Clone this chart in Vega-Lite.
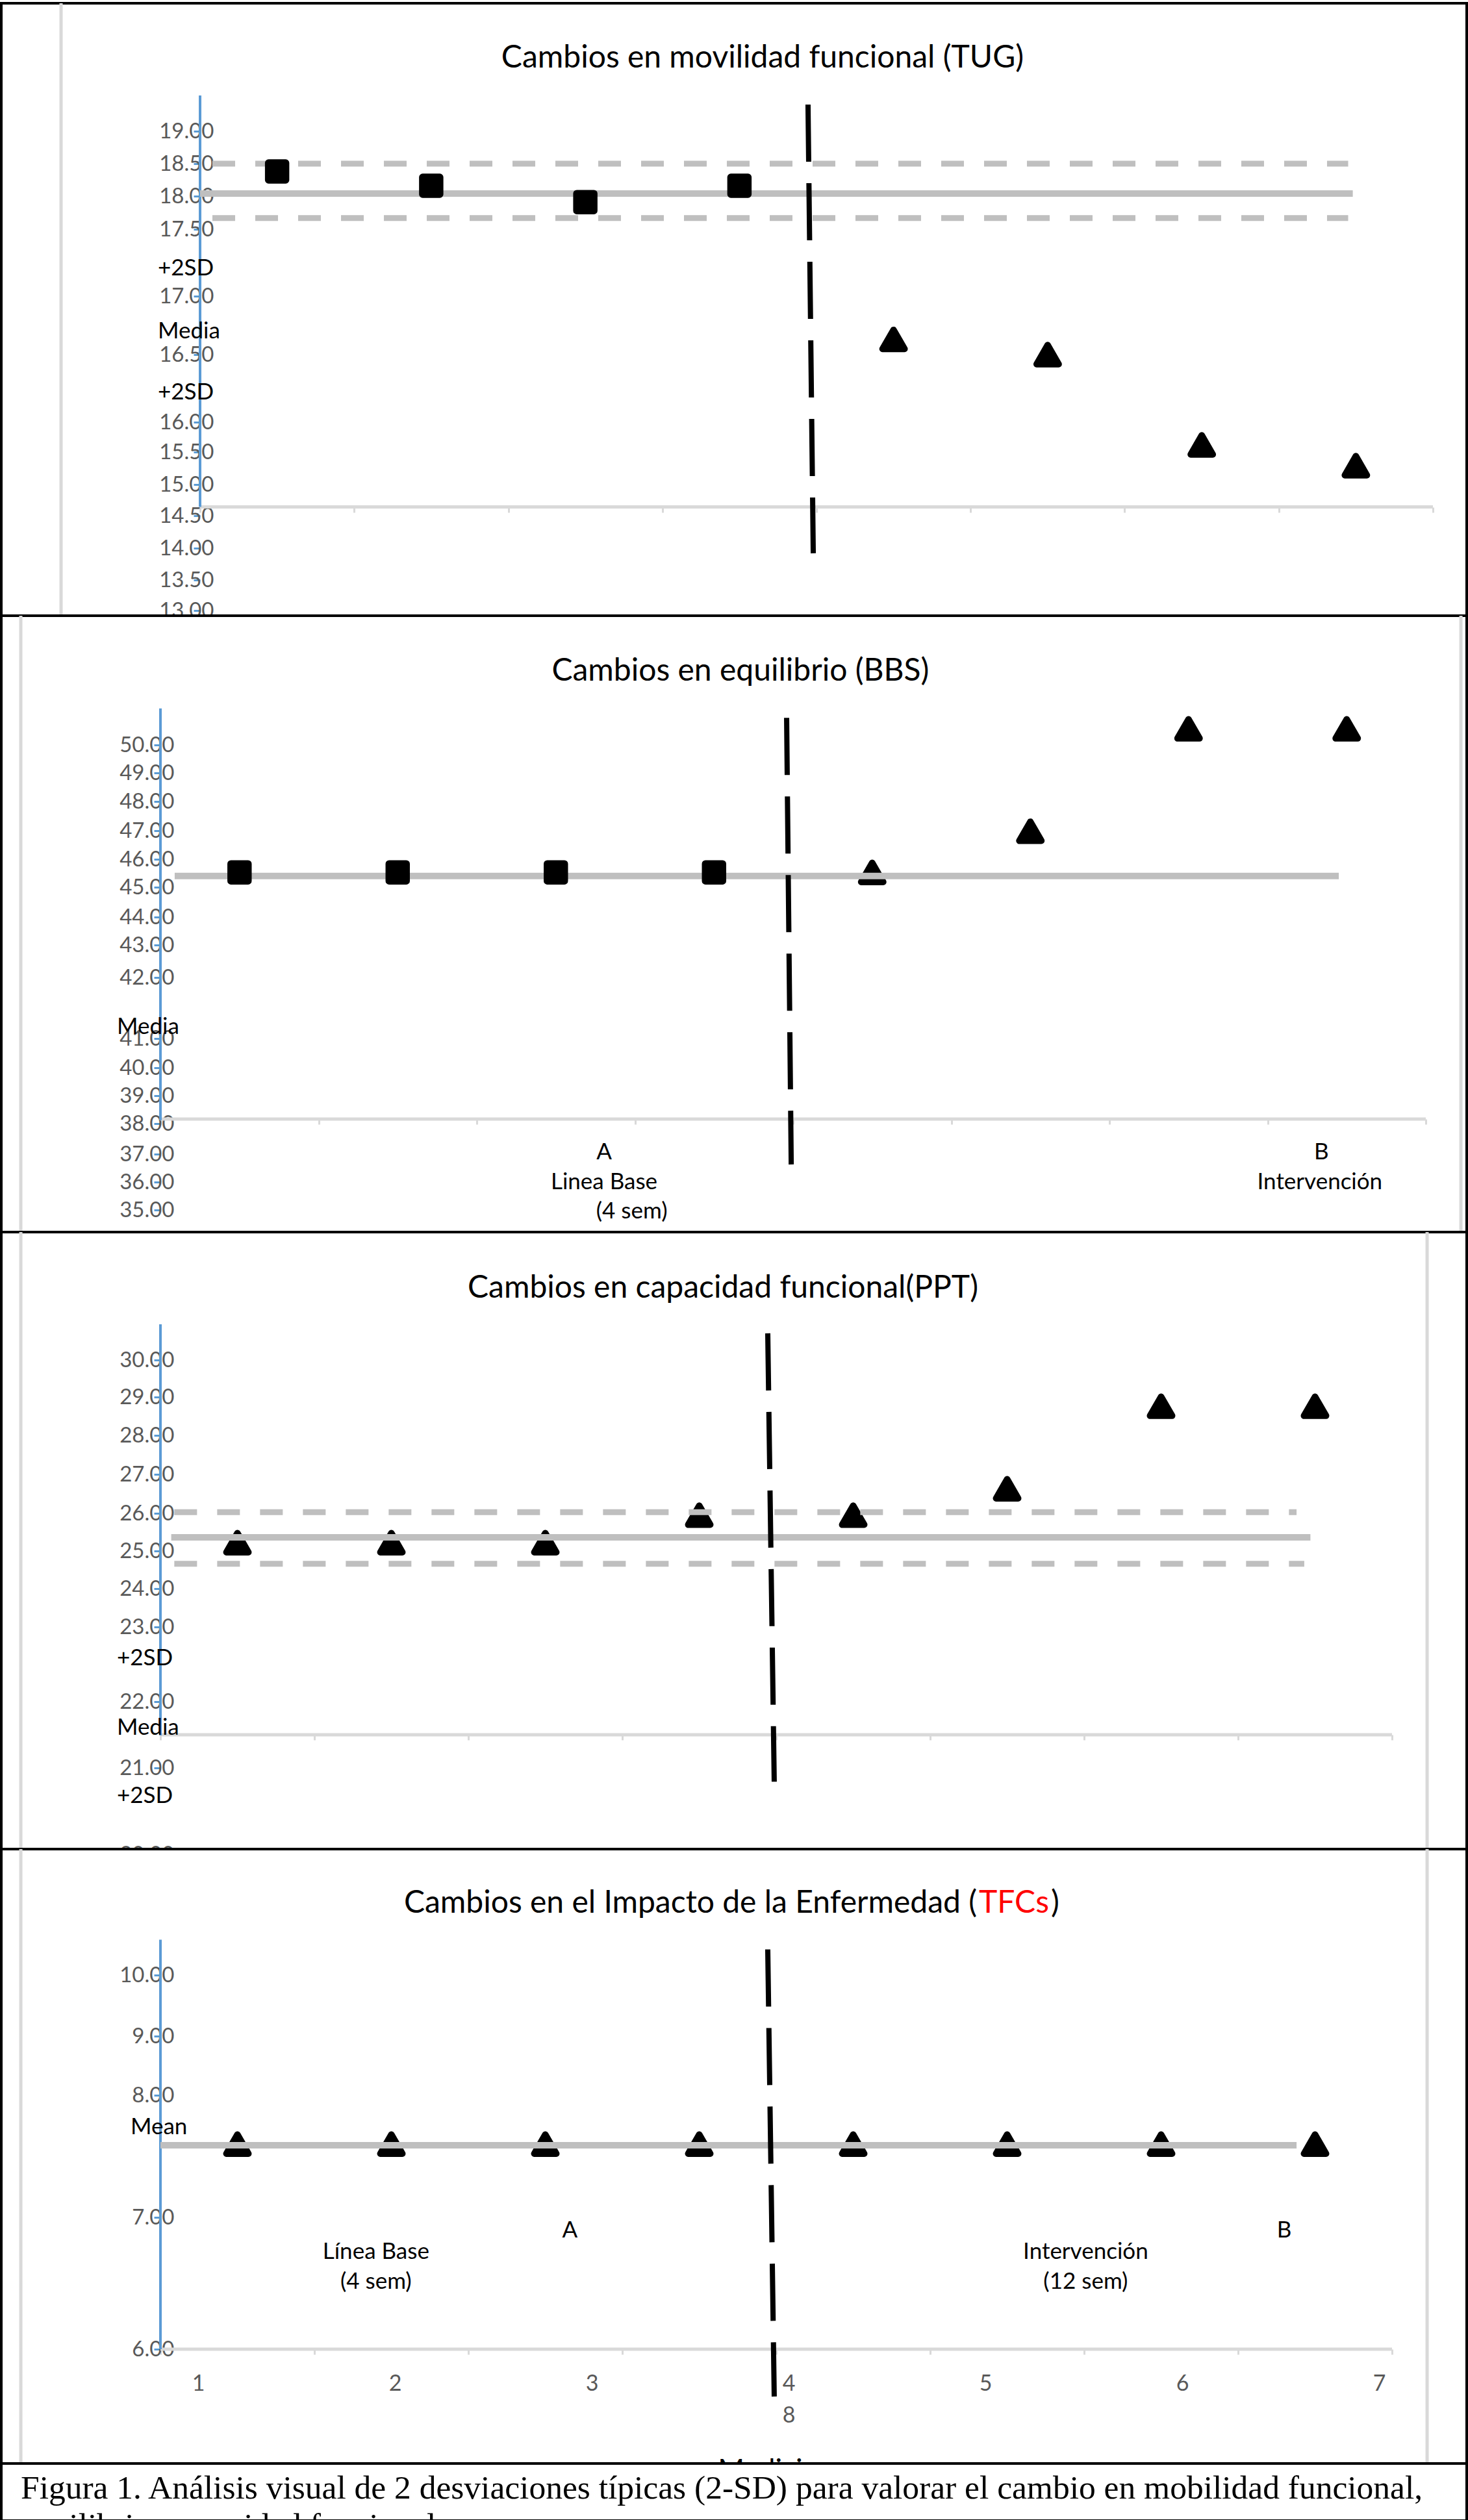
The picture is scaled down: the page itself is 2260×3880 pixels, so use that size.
{
  "$schema": "https://vega.github.io/schema/vega-lite/v6.json",
  "padding": 0,
  "spacing": 0,
  "bounds": "flush",
  "background": "white",
  "config": {"font": "Lato", "view": {"stroke": null}},
  "vconcat": [
    {
      "width": 2256, "height": 943,
      "view": {"stroke": "black", "strokeWidth": 4, "fill": "white"},
      "data": {"values": [{}]},
      "layer": [
        {"mark": {"type": "rule", "color": "#d9d9d9", "strokeWidth": 5}, "encoding": {"x": {"datum": -0.402}}},
        {"mark": {"type": "rule", "color": "#d9d9d9", "strokeWidth": 5}, "encoding": {"x": {"datum": 0.5}, "x2": {"datum": 8.5}, "y": {"datum": 14.64}}},
        {"mark": {"type": "rule", "color": "#5b9bd5", "strokeWidth": 4}, "encoding": {"x": {"datum": 0.5}, "y": {"datum": 14.64}, "y2": {"datum": 19.55}}},
        {"mark": {"type": "rule", "color": "#bfbfbf", "strokeWidth": 10}, "encoding": {"x": {"datum": 0.5}, "x2": {"datum": 7.98}, "y": {"datum": 18.04}}},
        {"mark": {"type": "rule", "color": "#bfbfbf", "strokeWidth": 9, "strokeDash": [35, 31]}, "encoding": {"x": {"datum": 0.58}, "x2": {"datum": 7.95}, "y": {"datum": 18.5}}},
        {"mark": {"type": "rule", "color": "#bfbfbf", "strokeWidth": 9, "strokeDash": [35, 31]}, "encoding": {"x": {"datum": 0.58}, "x2": {"datum": 7.95}, "y": {"datum": 17.67}}},
        {
          "data": {"values": [
            {"medicion": 1, "valor": 18.38, "fase": "A"},
            {"medicion": 2, "valor": 18.16, "fase": "A"},
            {"medicion": 3, "valor": 17.91, "fase": "A"},
            {"medicion": 4, "valor": 18.16, "fase": "A"}
          ]},
          "mark": {"type": "point", "filled": true, "opacity": 1, "shape": "square", "size": 700, "stroke": "black", "strokeWidth": 11, "strokeJoin": "round", "color": "black"},
          "encoding": {
            "x": {"field": "medicion", "type": "quantitative", "scale": {"domain": [-0.7898, 8.7192], "nice": false, "zero": false},
                  "axis": {"values": [0.5, 1.5, 2.5, 3.5, 4.5, 5.5, 6.5, 7.5, 8.5], "labels": false, "domain": false, "grid": false, "tickColor": "#d9d9d9", "tickSize": 8, "tickWidth": 3, "offset": -167, "title": null}},
            "y": {"field": "valor", "type": "quantitative",
                  "scale": {"domain": [12.92, 13, 13.5, 14, 14.5, 15, 15.5, 16, 16.5, 17, 17.5, 18, 18.5, 19, 20.97], "range": [943, 935, 888, 839, 789, 741, 691, 645, 541, 451, 348, 297, 247, 197, 0], "nice": false, "zero": false},
                  "axis": {"values": [13, 13.5, 14, 14.5, 15, 15.5, 16, 16.5, 17, 17.5, 18, 18.5, 19], "format": ".2f", "offset": -306, "domain": false, "grid": false, "tickColor": "#5b9bd5", "tickSize": 10, "tickWidth": 3, "labelPadding": -31, "labelFont": "Lato", "labelFontSize": 33, "labelColor": "#595959", "labelOverlap": false, "labelBound": false, "title": null}}
          }
        },
        {
          "data": {"values": [
            {"medicion": 5, "valor": 16.63, "fase": "B"},
            {"medicion": 6, "valor": 16.5, "fase": "B"},
            {"medicion": 7, "valor": 15.62, "fase": "B"},
            {"medicion": 8, "valor": 15.29, "fase": "B"}
          ]},
          "mark": {"type": "point", "filled": true, "opacity": 1, "shape": "triangle-up", "size": 1150, "stroke": "black", "strokeWidth": 10, "strokeJoin": "round", "color": "black"},
          "encoding": {"x": {"field": "medicion", "type": "quantitative"}, "y": {"field": "valor", "type": "quantitative"}}
        },
        {"mark": {"type": "rule", "color": "black", "strokeWidth": 8, "strokeDash": [88, 33]}, "encoding": {"x": {"datum": 4.445}, "x2": {"datum": 4.479}, "y": {"datum": 19.41}, "y2": {"datum": 13.92}}},
        {"mark": {"type": "text", "fontSize": 48, "align": "center", "baseline": "middle", "color": "black"}, "encoding": {"x": {"datum": 4.15}, "y": {"datum": 20.12}, "text": {"value": "Cambios en movilidad funcional (TUG)"}}},
        {"mark": {"type": "text", "fontSize": 35, "align": "left", "baseline": "middle", "color": "black"}, "encoding": {"x": {"datum": 0.226}, "y": {"datum": 17.21}, "text": {"value": "+2SD"}}},
        {"mark": {"type": "text", "fontSize": 35, "align": "left", "baseline": "middle", "color": "black"}, "encoding": {"x": {"datum": 0.226}, "y": {"datum": 16.7}, "text": {"value": "Media"}}},
        {"mark": {"type": "text", "fontSize": 35, "align": "left", "baseline": "middle", "color": "black"}, "encoding": {"x": {"datum": 0.226}, "y": {"datum": 16.22}, "text": {"value": "+2SD"}}}
      ]
    },
    {
      "width": 2256, "height": 949,
      "view": {"stroke": "black", "strokeWidth": 4, "fill": "white"},
      "data": {"values": [{}]},
      "layer": [
        {"mark": {"type": "rule", "color": "#d9d9d9", "strokeWidth": 5}, "encoding": {"x": {"datum": -0.383}}},
        {"mark": {"type": "rule", "color": "#d9d9d9", "strokeWidth": 5}, "encoding": {"x": {"datum": 8.722}}},
        {"mark": {"type": "rule", "color": "#d9d9d9", "strokeWidth": 5}, "encoding": {"x": {"datum": 0.5}, "x2": {"datum": 8.5}, "y": {"datum": 38.16}}},
        {"mark": {"type": "rule", "color": "#5b9bd5", "strokeWidth": 4}, "encoding": {"x": {"datum": 0.5}, "y": {"datum": 38.12}, "y2": {"datum": 51.29}}},
        {
          "data": {"values": [
            {"medicion": 5, "valor": 45.53, "fase": "B"},
            {"medicion": 6, "valor": 46.98, "fase": "B"},
            {"medicion": 7, "valor": 50.57, "fase": "B"},
            {"medicion": 8, "valor": 50.57, "fase": "B"}
          ]},
          "mark": {"type": "point", "filled": true, "opacity": 1, "shape": "triangle-up", "size": 1150, "stroke": "black", "strokeWidth": 10, "strokeJoin": "round", "color": "black"},
          "encoding": {"x": {"field": "medicion", "type": "quantitative"}, "y": {"field": "valor", "type": "quantitative"}}
        },
        {"mark": {"type": "rule", "color": "#bfbfbf", "strokeWidth": 10}, "encoding": {"x": {"datum": 0.59}, "x2": {"datum": 7.95}, "y": {"datum": 45.4}}},
        {
          "data": {"values": [
            {"medicion": 1, "valor": 45.53, "fase": "A"},
            {"medicion": 2, "valor": 45.53, "fase": "A"},
            {"medicion": 3, "valor": 45.53, "fase": "A"},
            {"medicion": 4, "valor": 45.53, "fase": "A"}
          ]},
          "mark": {"type": "point", "filled": true, "opacity": 1, "shape": "square", "size": 700, "stroke": "black", "strokeWidth": 11, "strokeJoin": "round", "color": "black"},
          "encoding": {
            "x": {"field": "medicion", "type": "quantitative", "scale": {"domain": [-0.5062, 8.7587], "nice": false, "zero": false},
                  "axis": {"values": [0.5, 1.5, 2.5, 3.5, 4.5, 5.5, 6.5, 7.5, 8.5], "labels": false, "domain": false, "grid": false, "tickColor": "#d9d9d9", "tickSize": 8, "tickWidth": 3, "offset": -174, "title": null}},
            "y": {"field": "valor", "type": "quantitative",
                  "scale": {"domain": [34.21, 35, 36, 37, 38, 39, 40, 41, 42, 43, 44, 45, 46, 47, 48, 49, 50, 54.57], "range": [949, 915, 872, 829, 782, 739, 696, 651, 557, 507, 464, 418, 375, 331, 286, 242, 199, 0], "nice": false, "zero": false},
                  "axis": {"values": [35, 36, 37, 38, 39, 40, 41, 42, 43, 44, 45, 46, 47, 48, 49, 50], "format": ".2f", "offset": -245, "domain": false, "grid": false, "tickColor": "#5b9bd5", "tickSize": 10, "tickWidth": 3, "labelPadding": -31, "labelFont": "Lato", "labelFontSize": 33, "labelColor": "#595959", "labelOverlap": false, "labelBound": false, "title": null}}
          }
        },
        {"mark": {"type": "rule", "color": "black", "strokeWidth": 8, "strokeDash": [88, 33]}, "encoding": {"x": {"datum": 4.459}, "x2": {"datum": 4.488}, "y": {"datum": 50.96}, "y2": {"datum": 36.63}}},
        {"mark": {"type": "text", "fontSize": 48, "align": "center", "baseline": "middle", "color": "black"}, "encoding": {"x": {"datum": 4.167}, "y": {"datum": 52.6}, "text": {"value": "Cambios en equilibrio (BBS)"}}},
        {"mark": {"type": "text", "fontSize": 35, "align": "left", "baseline": "middle", "color": "black"}, "encoding": {"x": {"datum": 0.225}, "y": {"datum": 41.19}, "text": {"value": "Media"}}},
        {"mark": {"type": "text", "fontSize": 35, "align": "center", "baseline": "middle", "color": "black"}, "encoding": {"x": {"datum": 3.305}, "y": {"datum": 37.06}, "text": {"value": "A"}}},
        {"mark": {"type": "text", "fontSize": 35, "align": "center", "baseline": "middle", "color": "black"}, "encoding": {"x": {"datum": 3.305}, "y": {"datum": 36.0}, "text": {"value": "Linea Base"}}},
        {"mark": {"type": "text", "fontSize": 35, "align": "center", "baseline": "middle", "color": "black"}, "encoding": {"x": {"datum": 3.48}, "y": {"datum": 34.95}, "text": {"value": "(4 sem)"}}},
        {"mark": {"type": "text", "fontSize": 35, "align": "center", "baseline": "middle", "color": "black"}, "encoding": {"x": {"datum": 7.84}, "y": {"datum": 37.06}, "text": {"value": "B"}}},
        {"mark": {"type": "text", "fontSize": 35, "align": "center", "baseline": "middle", "color": "black"}, "encoding": {"x": {"datum": 7.83}, "y": {"datum": 36.0}, "text": {"value": "Intervención"}}}
      ]
    },
    {
      "width": 2256, "height": 950,
      "view": {"stroke": "black", "strokeWidth": 4, "fill": "white"},
      "data": {"values": [{}]},
      "layer": [
        {"mark": {"type": "rule", "color": "#d9d9d9", "strokeWidth": 5}, "encoding": {"x": {"datum": -0.407}}},
        {"mark": {"type": "rule", "color": "#d9d9d9", "strokeWidth": 5}, "encoding": {"x": {"datum": 8.728}}},
        {"mark": {"type": "rule", "color": "#d9d9d9", "strokeWidth": 5}, "encoding": {"x": {"datum": 0.5}, "x2": {"datum": 8.5}, "y": {"datum": 21.5}}},
        {"mark": {"type": "rule", "color": "#5b9bd5", "strokeWidth": 4}, "encoding": {"x": {"datum": 0.5}, "y": {"datum": 21.49}, "y2": {"datum": 30.95}}},
        {
          "data": {"values": [
            {"medicion": 1, "valor": 25.22, "fase": "A"},
            {"medicion": 2, "valor": 25.22, "fase": "A"},
            {"medicion": 3, "valor": 25.22, "fase": "A"},
            {"medicion": 4, "valor": 25.95, "fase": "A"},
            {"medicion": 5, "valor": 25.95, "fase": "B"},
            {"medicion": 6, "valor": 26.63, "fase": "B"},
            {"medicion": 7, "valor": 28.76, "fase": "B"},
            {"medicion": 8, "valor": 28.76, "fase": "B"}
          ]},
          "mark": {"type": "point", "filled": true, "opacity": 1, "shape": "triangle-up", "size": 1150, "stroke": "black", "strokeWidth": 10, "strokeJoin": "round", "color": "black"},
          "encoding": {
            "x": {"field": "medicion", "type": "quantitative", "scale": {"domain": [-0.5338, 8.9852], "nice": false, "zero": false},
                  "axis": {"values": [0.5, 1.5, 2.5, 3.5, 4.5, 5.5, 6.5, 7.5, 8.5], "labels": false, "domain": false, "grid": false, "tickColor": "#d9d9d9", "tickSize": 8, "tickWidth": 3, "offset": -176, "title": null}},
            "y": {"field": "valor", "type": "quantitative",
                  "scale": {"domain": [20, 21, 22, 23, 24, 25, 26, 27, 28, 29, 30, 33.4], "range": [958, 825, 723, 608, 549, 491, 433, 373, 313, 254, 197, 0], "nice": false, "zero": false},
                  "axis": {"values": [20, 21, 22, 23, 24, 25, 26, 27, 28, 29, 30], "format": ".2f", "offset": -245, "domain": false, "grid": false, "tickColor": "#5b9bd5", "tickSize": 10, "tickWidth": 3, "labelPadding": -31, "labelFont": "Lato", "labelFontSize": 33, "labelColor": "#595959", "labelOverlap": false, "labelBound": false, "title": null}}
          }
        },
        {"mark": {"type": "rule", "color": "#bfbfbf", "strokeWidth": 10}, "encoding": {"x": {"datum": 0.57}, "x2": {"datum": 7.97}, "y": {"datum": 25.36}}},
        {"mark": {"type": "rule", "color": "#bfbfbf", "strokeWidth": 9, "strokeDash": [35, 31]}, "encoding": {"x": {"datum": 0.59}, "x2": {"datum": 7.88}, "y": {"datum": 26.03}}},
        {"mark": {"type": "rule", "color": "#bfbfbf", "strokeWidth": 9, "strokeDash": [35, 31]}, "encoding": {"x": {"datum": 0.59}, "x2": {"datum": 7.93}, "y": {"datum": 24.66}}},
        {"mark": {"type": "rule", "color": "black", "strokeWidth": 8, "strokeDash": [88, 33]}, "encoding": {"x": {"datum": 4.445}, "x2": {"datum": 4.487}, "y": {"datum": 30.71}, "y2": {"datum": 20.84}}},
        {"mark": {"type": "text", "fontSize": 48, "align": "center", "baseline": "middle", "color": "black"}, "encoding": {"x": {"datum": 4.154}, "y": {"datum": 31.9}, "text": {"value": "Cambios en capacidad funcional(PPT)"}}},
        {"mark": {"type": "text", "fontSize": 35, "align": "left", "baseline": "middle", "color": "black"}, "encoding": {"x": {"datum": 0.217}, "y": {"datum": 22.58}, "text": {"value": "+2SD"}}},
        {"mark": {"type": "text", "fontSize": 35, "align": "left", "baseline": "middle", "color": "black"}, "encoding": {"x": {"datum": 0.217}, "y": {"datum": 21.61}, "text": {"value": "Media"}}},
        {"mark": {"type": "text", "fontSize": 35, "align": "left", "baseline": "middle", "color": "black"}, "encoding": {"x": {"datum": 0.217}, "y": {"datum": 20.68}, "text": {"value": "+2SD"}}}
      ]
    },
    {
      "width": 2256, "height": 946,
      "view": {"stroke": "black", "strokeWidth": 4, "fill": "white"},
      "data": {"values": [{}]},
      "resolve": {"scale": {"x": "independent"}, "axis": {"x": "independent"}},
      "layer": [
        {
          "layer": [
            {"mark": {"type": "rule", "color": "#d9d9d9", "strokeWidth": 5}, "encoding": {"x": {"datum": -0.407}}},
            {"mark": {"type": "rule", "color": "#d9d9d9", "strokeWidth": 5}, "encoding": {"x": {"datum": 8.728}}},
            {"mark": {"type": "rule", "color": "#d9d9d9", "strokeWidth": 5}, "encoding": {"x": {"datum": 0.5}, "x2": {"datum": 8.5}, "y": {"datum": 6.0}}},
            {"mark": {"type": "rule", "color": "#5b9bd5", "strokeWidth": 4}, "encoding": {"x": {"datum": 0.5}, "y": {"datum": 6.0}, "y2": {"datum": 10.58}}},
            {
              "data": {"values": [
                {"medicion": 1, "valor": 7.6, "fase": "A"},
                {"medicion": 2, "valor": 7.6, "fase": "A"},
                {"medicion": 3, "valor": 7.6, "fase": "A"},
                {"medicion": 4, "valor": 7.6, "fase": "A"},
                {"medicion": 5, "valor": 7.6, "fase": "B"},
                {"medicion": 6, "valor": 7.6, "fase": "B"},
                {"medicion": 7, "valor": 7.6, "fase": "B"},
                {"medicion": 8, "valor": 7.6, "fase": "B"}
              ]},
              "mark": {"type": "point", "filled": true, "opacity": 1, "shape": "triangle-up", "size": 1150, "stroke": "black", "strokeWidth": 10, "strokeJoin": "round", "color": "black"},
              "encoding": {
                "x": {"field": "medicion", "type": "quantitative", "scale": {"domain": [-0.5338, 8.9852], "nice": false, "zero": false},
                      "axis": {"values": [0.5, 1.5, 2.5, 3.5, 4.5, 5.5, 6.5, 7.5, 8.5], "labels": false, "domain": false, "grid": false, "tickColor": "#d9d9d9", "tickSize": 8, "tickWidth": 3, "offset": -176, "title": null}},
                "y": {"field": "valor", "type": "quantitative",
                      "scale": {"domain": [5.13, 6, 7, 8, 9, 10, 12.06], "range": [946, 770, 567, 379, 288, 194, 0], "nice": false, "zero": false},
                      "axis": {"values": [6, 7, 8, 9, 10], "format": ".2f", "offset": -245, "domain": false, "grid": false, "tickColor": "#5b9bd5", "tickSize": 10, "tickWidth": 3, "labelPadding": -31, "labelFont": "Lato", "labelFontSize": 33, "labelColor": "#595959", "labelOverlap": false, "labelBound": false, "title": null}}
              }
            },
            {"mark": {"type": "rule", "color": "#bfbfbf", "strokeWidth": 10}, "encoding": {"x": {"datum": 0.5}, "x2": {"datum": 7.88}, "y": {"datum": 7.59}}},
            {"mark": {"type": "rule", "color": "black", "strokeWidth": 8, "strokeDash": [88, 33]}, "encoding": {"x": {"datum": 4.445}, "x2": {"datum": 4.487}, "y": {"datum": 10.42}, "y2": {"datum": 5.64}}},
            {"mark": {"type": "text", "fontSize": 48, "align": "right", "baseline": "middle", "color": "black"}, "encoding": {"x": {"datum": 5.804}, "y": {"datum": 11.17}, "text": {"value": "Cambios en el Impacto de la Enfermedad  ("}}},
            {"mark": {"type": "text", "fontSize": 48, "align": "left", "baseline": "middle", "color": "#ff0000"}, "encoding": {"x": {"datum": 5.816}, "y": {"datum": 11.17}, "text": {"value": "TFCs"}}},
            {"mark": {"type": "text", "fontSize": 48, "align": "left", "baseline": "middle", "color": "black"}, "encoding": {"x": {"datum": 6.285}, "y": {"datum": 11.17}, "text": {"value": ")"}}},
            {"mark": {"type": "text", "fontSize": 35, "align": "left", "baseline": "middle", "color": "black"}, "encoding": {"x": {"datum": 0.306}, "y": {"datum": 7.74}, "text": {"value": "Mean"}}},
            {"mark": {"type": "text", "fontSize": 35, "align": "center", "baseline": "middle", "color": "black"}, "encoding": {"x": {"datum": 1.9}, "y": {"datum": 6.74}, "text": {"value": "Línea Base"}}},
            {"mark": {"type": "text", "fontSize": 35, "align": "center", "baseline": "middle", "color": "black"}, "encoding": {"x": {"datum": 1.9}, "y": {"datum": 6.51}, "text": {"value": "(4 sem)"}}},
            {"mark": {"type": "text", "fontSize": 35, "align": "center", "baseline": "middle", "color": "black"}, "encoding": {"x": {"datum": 3.16}, "y": {"datum": 6.9}, "text": {"value": "A"}}},
            {"mark": {"type": "text", "fontSize": 35, "align": "center", "baseline": "middle", "color": "black"}, "encoding": {"x": {"datum": 7.8}, "y": {"datum": 6.9}, "text": {"value": "B"}}},
            {"mark": {"type": "text", "fontSize": 35, "align": "center", "baseline": "middle", "color": "black"}, "encoding": {"x": {"datum": 6.51}, "y": {"datum": 6.74}, "text": {"value": "Intervención"}}},
            {"mark": {"type": "text", "fontSize": 35, "align": "center", "baseline": "middle", "color": "black"}, "encoding": {"x": {"datum": 6.51}, "y": {"datum": 6.51}, "text": {"value": "(12 sem)"}}},
            {"mark": {"type": "text", "fontSize": 44, "align": "center", "baseline": "middle", "color": "black"}, "encoding": {"x": {"datum": 4.59}, "y": {"datum": 5.07}, "text": {"value": "Mediciones"}}}
          ]
        },
        {
          "data": {"values": [{"n": 1}, {"n": 2}, {"n": 3}, {"n": 4}, {"n": 5}, {"n": 6}, {"n": 7}]},
          "mark": {"type": "point", "opacity": 0},
          "encoding": {
            "x": {"field": "n", "type": "quantitative", "scale": {"domain": [0, 7.4455], "nice": false, "zero": false},
                  "axis": {"orient": "bottom", "offset": -176, "values": [1, 2, 3, 4, 5, 6, 7], "ticks": false, "tickSize": 0, "domain": false, "grid": false, "labelPadding": 36, "labelExpr": "datum.value == 4 ? ['4', '8'] : datum.label", "labelLineHeight": 49, "labelFont": "Lato", "labelFontSize": 34, "labelColor": "#595959", "labelFlush": false, "labelOverlap": false, "title": null}}
          }
        }
      ]
    },
    {
      "width": 2256, "height": 88,
      "view": {"stroke": "black", "strokeWidth": 4, "fill": "white"},
      "data": {"values": [{}]},
      "mark": {"type": "text"},
      "encoding": {"text": {"value": ""}},
      "title": {
        "text": ["Figura 1. Análisis visual de 2 desviaciones típicas (2-SD) para valorar el cambio en mobilidad funcional,", "equilibrio, capacidad funcional e"],
        "anchor": "start", "frame": "group", "orient": "top", "offset": -163, "dx": 30,
        "font": "Liberation Serif", "fontSize": 51.5, "fontWeight": "normal", "color": "black",
        "baseline": "alphabetic", "lineHeight": 58
      }
    }
  ]
}
